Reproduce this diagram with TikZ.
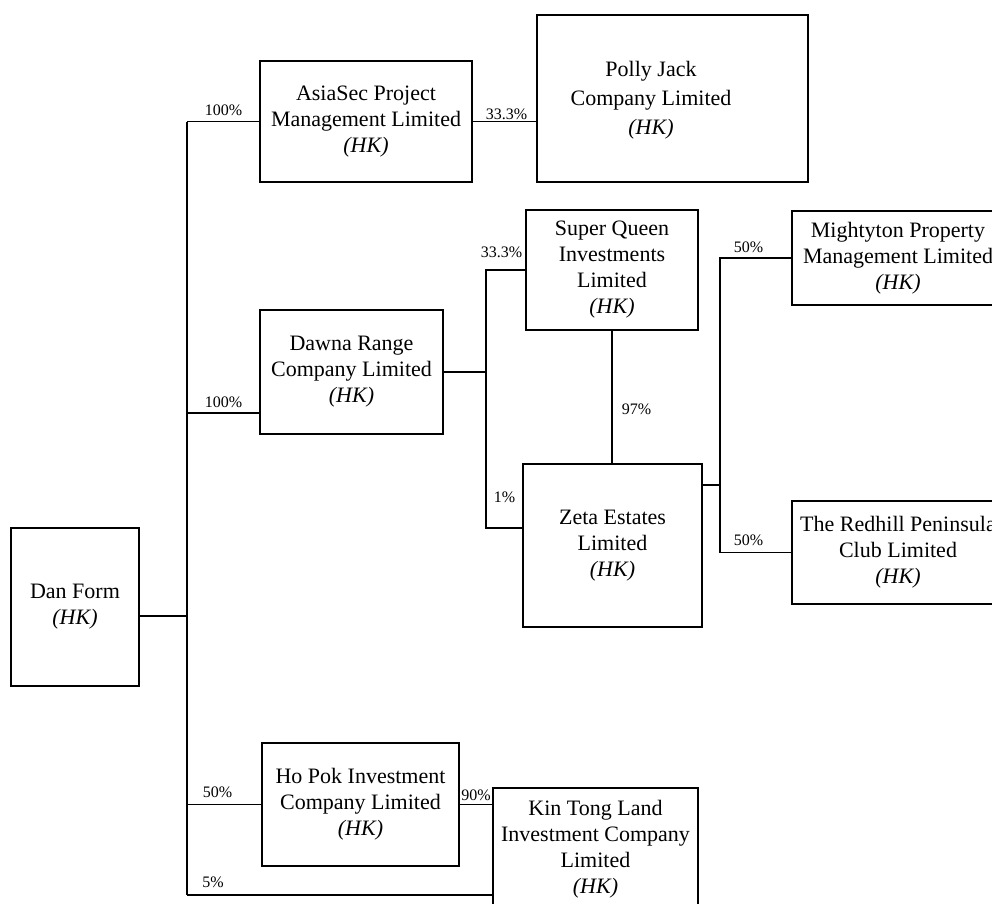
\documentclass[tikz,border=0pt]{standalone}
\usepackage{fontspec}
\setmainfont{Liberation Serif}
\begin{document}
\begin{tikzpicture}[x=1pt,y=-1pt,
  box/.style={draw, line width=1.1pt, inner sep=0pt, align=center,
    font=\fontsize{22}{26}\selectfont},
  txt/.style={inner sep=0pt, align=center, font=\fontsize{22}{29}\selectfont},
  pct/.style={inner sep=0pt, font=\fontsize{16}{18}\selectfont},
  conn/.style={line width=1.1pt}]
\useasboundingbox (0,0) rectangle (992,903);
\clip (0,0) rectangle (992,903);
% boxes
\node[box, minimum width=128, minimum height=158] (dan) at (75,607) {Dan Form\\\textit{(HK)}};
\node[box, minimum width=212, minimum height=121] (asia) at (366,121.5) {AsiaSec Project\\Management Limited\\\textit{(HK)}};
\node[box, minimum width=271, minimum height=167] (polly) at (672.5,98.5) {};
\node[txt] (pollytxt) at (651,100) {Polly Jack\\Company Limited\\\textit{(HK)}};
\node[box, minimum width=183, minimum height=124] (dawna) at (351.5,372) {Dawna Range\\Company Limited\\\textit{(HK)}};
\node[box, minimum width=172, minimum height=120] (sq) at (612,270) {Super Queen\\Investments\\Limited\\\textit{(HK)}};
\node[box, minimum width=179, minimum height=163] (zeta) at (612.5,545.5) {Zeta Estates\\Limited\\\textit{(HK)}};
\node[box, minimum width=212, minimum height=94] (might) at (898,258) {Mightyton Property\\Management Limited\\\textit{(HK)}};
\node[box, minimum width=212, minimum height=103] (red) at (898,552.5) {The Redhill Peninsula\\Club Limited\\\textit{(HK)}};
\node[box, minimum width=197, minimum height=123] (hopok) at (360.5,804.5) {Ho Pok Investment\\Company Limited\\\textit{(HK)}};
\node[box, minimum width=205, minimum height=122] (kin) at (595.5,849) {Kin Tong Land\\Investment Company\\Limited\\\textit{(HK)}};
% junction coordinates
\coordinate (tTop) at (187,121.5);
\coordinate (tBot) at (187,895);
\coordinate (j0) at (187,616);
\coordinate (j1) at (187,413);
\coordinate (j2) at (486,372);
\coordinate (j3) at (486,528);
\coordinate (j4) at (720,485);
% connectors
\draw[conn] (tTop) -- (tBot);
\draw[conn] (j0 -| dan.east) -- (j0);
\draw[conn] (tTop) -- (asia.west);
\draw[conn] (asia.east) -- (asia.east -| polly.west);
\draw[conn] (j1) -- (j1 -| dawna.west);
\draw[conn] (dawna.east) -- (j2);
\draw[conn] (sq.west) -| (j3) -- (j3 -| zeta.west);
\draw[conn] (sq.south) -- (sq.south |- zeta.north);
\draw[conn] (j4 -| zeta.east) -- (j4);
\draw[conn] (might.west) -| (j4) |- (red.west);
\draw[conn] (hopok.west -| tTop) -- (hopok.west);
\draw[conn] (hopok.east) -- (hopok.east -| kin.west);
\draw[conn] (tBot) -- (tBot -| kin.west);
% percentage labels
\node[pct] (p1) at (223.5,110) {100\%};
\node[pct] (p2) at (506.5,114) {33.3\%};
\node[pct] (p3) at (223.5,402) {100\%};
\node[pct] (p4) at (501.5,252) {33.3\%};
\node[pct] (p5) at (636.5,409) {97\%};
\node[pct] (p6) at (504.5,497) {1\%};
\node[pct] (p7) at (748.5,247) {50\%};
\node[pct] (p8) at (748.5,540) {50\%};
\node[pct] (p9) at (217.5,792) {50\%};
\node[pct] (p10) at (476,795) {90\%};
\node[pct] (p11) at (213,882) {5\%};
\end{tikzpicture}
\end{document}
